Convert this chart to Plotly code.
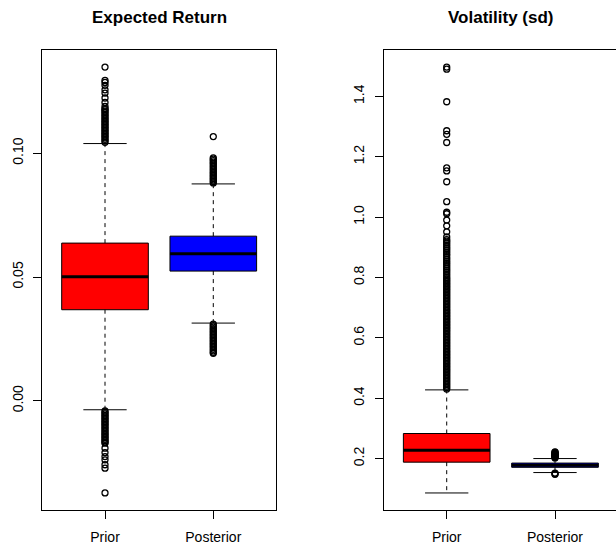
import plotly.graph_objects as go

# ---------------------------------------------------------------- data
groups = ["Prior", "Posterior"]
box_colors = ["#FF0000", "#0000FF"]

# Expected return: five-number summaries (lower whisker, Q1, median, Q3, upper whisker)
er_lower = [-0.0036, 0.0314]
er_q1 = [0.0368, 0.0524]
er_median = [0.0501, 0.0594]
er_q3 = [0.0637, 0.0665]
er_upper = [0.1039, 0.0876]

# Expected return outliers
er_prior_out = [
    0.1044, 0.1050, 0.1056, 0.1062, 0.1068, 0.1074, 0.1080, 0.1086, 0.1092, 0.1098,
    0.1104, 0.1110, 0.1116, 0.1122, 0.1128, 0.1134, 0.1140, 0.1146, 0.1152, 0.1158,
    0.1164, 0.1170, 0.1176, 0.1180, 0.1189, 0.1205, 0.1223, 0.1243, 0.1256, 0.1274,
    0.1286, 0.1294, 0.1348,
    -0.0041, -0.0047, -0.0053, -0.0059, -0.0065, -0.0071, -0.0077, -0.0083, -0.0089,
    -0.0095, -0.0101, -0.0107, -0.0113, -0.0119, -0.0125, -0.0131, -0.0137, -0.0143,
    -0.0149, -0.0155, -0.0161, -0.0167, -0.0171, -0.0191, -0.0209, -0.0225, -0.0238,
    -0.0258, -0.0272, -0.0372,
]
er_post_out = [
    0.0880, 0.0886, 0.0892, 0.0898, 0.0904, 0.0910, 0.0916, 0.0922, 0.0928, 0.0934,
    0.0940, 0.0946, 0.0952, 0.0958, 0.0964, 0.0970, 0.0976, 0.0981, 0.1067,
    0.0310, 0.0304, 0.0298, 0.0292, 0.0286, 0.0280, 0.0274, 0.0268, 0.0262, 0.0256,
    0.0250, 0.0244, 0.0238, 0.0232, 0.0226, 0.0220, 0.0214, 0.0208, 0.0202, 0.0196,
    0.0192,
]

# Volatility: five-number summaries
vol_lower = [0.086, 0.1536]
vol_q1 = [0.188, 0.171]
vol_median = [0.2276, 0.178]
vol_q3 = [0.283, 0.185]
vol_upper = [0.4275, 0.200]

# Volatility outliers
vol_prior_out = [
    0.430, 0.435, 0.440, 0.445, 0.450, 0.455, 0.460, 0.465, 0.470, 0.475,
    0.480, 0.485, 0.490, 0.495, 0.500, 0.505, 0.510, 0.515, 0.520, 0.525,
    0.530, 0.535, 0.540, 0.545, 0.550, 0.555, 0.560, 0.565, 0.570, 0.575,
    0.580, 0.585, 0.590, 0.595, 0.600, 0.605, 0.610, 0.615, 0.620, 0.625,
    0.630, 0.635, 0.640, 0.645, 0.650, 0.655, 0.660, 0.665, 0.670, 0.675,
    0.680, 0.685, 0.690, 0.695, 0.700, 0.705, 0.710, 0.715, 0.720, 0.725,
    0.730, 0.735, 0.740, 0.745, 0.750, 0.755, 0.760, 0.765, 0.770, 0.775,
    0.780, 0.785, 0.790, 0.795, 0.800, 0.806, 0.812, 0.818, 0.824, 0.830,
    0.836, 0.842, 0.848, 0.854, 0.860, 0.866, 0.872, 0.878, 0.884, 0.890,
    0.896, 0.902, 0.908, 0.914, 0.920, 0.925,
    0.934, 0.951, 0.971, 0.990, 1.011, 1.016, 1.051, 1.117, 1.153, 1.163,
    1.247, 1.274, 1.286, 1.382, 1.490, 1.497,
]
vol_post_out = [
    0.202, 0.204, 0.206, 0.208, 0.210, 0.212, 0.214, 0.216, 0.218, 0.220, 0.222,
    0.152, 0.150, 0.148,
]

# ---------------------------------------------------------------- layout constants
W, H = 616, 544
FONT = "Liberation Sans, Arial, Helvetica, sans-serif"
BOX_W = 0.8          # box width in category units
STAPLE_W = 0.4       # whisker end-cap width
PX_PER_UNIT = 108.3  # horizontal scale shared by both panels
LEFT_X0, LEFT_X1 = 42.2, 276.1
RIGHT_X0 = 383.9
PLOT_TOP, PLOT_BOTTOM = 50, 510

fig = go.Figure()


def padded_range(values, frac=0.04):
    lo, hi = min(values), max(values)
    pad = (hi - lo) * frac
    return [lo - pad, hi + pad]


def add_panel(xa, ya, lower, q1, med, q3, upper, outliers):
    xs = [i + 1 for i in range(len(groups))]
    # boxes (Q1 to Q3)
    fig.add_trace(go.Bar(
        x=xs, base=q1, y=[b - a for a, b in zip(q1, q3)], width=BOX_W,
        marker=dict(color=box_colors, line=dict(color="black", width=1)),
        xaxis=xa, yaxis=ya, showlegend=False, hoverinfo="skip",
    ))
    for i, x in enumerate(xs):
        # dashed whiskers
        fig.add_trace(go.Scatter(
            x=[x, x, None, x, x], y=[q3[i], upper[i], None, q1[i], lower[i]],
            mode="lines", line=dict(color="black", width=1, dash="4px,4px"),
            xaxis=xa, yaxis=ya, showlegend=False, hoverinfo="skip",
        ))
        # staples
        h = STAPLE_W / 2
        fig.add_trace(go.Scatter(
            x=[x - h, x + h, None, x - h, x + h],
            y=[upper[i], upper[i], None, lower[i], lower[i]],
            mode="lines", line=dict(color="black", width=1),
            xaxis=xa, yaxis=ya, showlegend=False, hoverinfo="skip",
        ))
        # median
        b = BOX_W / 2
        fig.add_trace(go.Scatter(
            x=[x - b, x + b], y=[med[i], med[i]],
            mode="lines", line=dict(color="black", width=3),
            xaxis=xa, yaxis=ya, showlegend=False, hoverinfo="skip",
        ))
        # outliers
        fig.add_trace(go.Scatter(
            x=[x] * len(outliers[i]), y=outliers[i], mode="markers",
            marker=dict(symbol="circle-open", size=6, color="black",
                        line=dict(color="black", width=1.3)),
            xaxis=xa, yaxis=ya, showlegend=False, hoverinfo="skip",
        ))


add_panel("x", "y", er_lower, er_q1, er_median, er_q3, er_upper,
          [er_prior_out, er_post_out])
add_panel("x2", "y2", vol_lower, vol_q1, vol_median, vol_q3, vol_upper,
          [vol_prior_out, vol_post_out])

er_range = padded_range(er_lower + er_upper + er_prior_out + er_post_out)
vol_range = padded_range(vol_lower + vol_upper + vol_prior_out + vol_post_out)

ydom = [(H - PLOT_BOTTOM) / H, (H - PLOT_TOP) / H]
xrange_left = [0.42, 2.58]
xrange_right = [0.42, 0.42 + (W - RIGHT_X0) / PX_PER_UNIT]

common_x = dict(
    tickmode="array", tickvals=[1, 2], ticktext=groups,
    ticks="outside", ticklen=8, tickcolor="black", tickwidth=1,
    showline=True, linecolor="black", linewidth=1, mirror=True,
    showgrid=False, zeroline=False, automargin=False,
    tickfont=dict(family=FONT, size=14, color="black"),
    ticklabelstandoff=6, fixedrange=True,
)
common_y = dict(
    ticks="outside", ticklen=8, tickcolor="black", tickwidth=1,
    showline=True, linecolor="black", linewidth=1,
    showgrid=False, zeroline=False, automargin=False,
    tickangle=-90, tickfont=dict(family=FONT, size=14, color="black"),
    ticklabelstandoff=5, fixedrange=True,
)

fig.update_layout(
    width=W, height=H,
    margin=dict(l=0, r=0, t=0, b=0, pad=0),
    paper_bgcolor="white", plot_bgcolor="white",
    font=dict(family=FONT, size=14, color="black"),
    showlegend=False,
    xaxis=dict(domain=[LEFT_X0 / W, LEFT_X1 / W], range=xrange_left, **common_x),
    yaxis=dict(domain=ydom, range=er_range, tickvals=[0.0, 0.05, 0.10],
               ticktext=["0.00", "0.05", "0.10"], mirror=True, **common_y),
    xaxis2=dict(domain=[RIGHT_X0 / W, 1.0], range=xrange_right, anchor="y2", **common_x),
    yaxis2=dict(domain=ydom, range=vol_range, anchor="x2",
                tickvals=[0.2, 0.4, 0.6, 0.8, 1.0, 1.2, 1.4],
                ticktext=["0.2", "0.4", "0.6", "0.8", "1.0", "1.2", "1.4"],
                mirror=False, **common_y),
    annotations=[
        dict(text="<b>Expected Return</b>", xref="x domain", yref="paper",
             x=0.5, y=1 - 17 / H, xanchor="center", yanchor="middle",
             showarrow=False, font=dict(family=FONT, size=17, color="black")),
        dict(text="<b>Volatility (sd)</b>", xref="paper", yref="paper",
             x=(RIGHT_X0 + PX_PER_UNIT * 2.16 / 2) / W, y=1 - 17 / H,
             xanchor="center", yanchor="middle",
             showarrow=False, font=dict(family=FONT, size=17, color="black")),
    ],
)

fig.write_html("out.html")
